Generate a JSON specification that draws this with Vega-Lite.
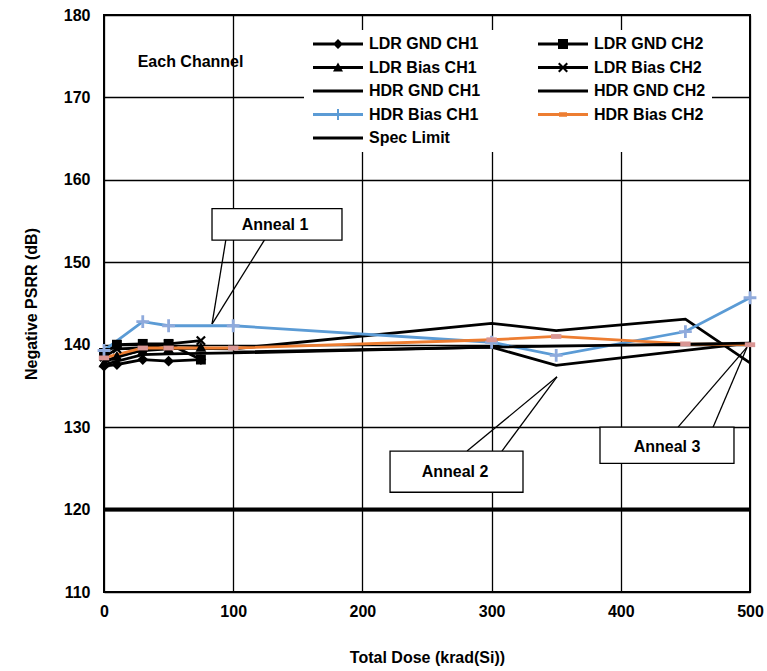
{
  "$schema": "https://vega.github.io/schema/vega-lite/v6.json",
  "width": 646,
  "height": 577,
  "autosize": {"type": "none"},
  "padding": {"left": 104, "top": 15, "right": 17, "bottom": 79},
  "background": "white",
  "config": {
    "view": {"stroke": "black", "strokeWidth": 2},
    "axis": {
      "domain": false, "ticks": false, "grid": true, "gridColor": "black", "gridOpacity": 1, "gridWidth": 1.3,
      "labelFont": "Liberation Sans", "labelFontSize": 16, "labelFontWeight": "bold", "labelColor": "black",
      "titleFont": "Liberation Sans", "titleFontSize": 16, "titleFontWeight": "bold", "titleColor": "black"
    },
    "legend": {
      "orient": "none", "legendX": 200, "legendY": 15, "columns": 2, "columnPadding": 54, "rowPadding": 7.5,
      "padding": 6, "fillColor": "white", "title": null, "symbolSize": 100, "labelOffset": 43,
      "labelFont": "Liberation Sans", "labelFontSize": 16, "labelFontWeight": "bold", "labelColor": "black",
      "symbolStrokeWidth": 0, "symbolOpacity": 1
    }
  },
  "datasets": {
    "d": [
      {"s": "LDR GND CH1", "x": 0, "y": 137.4}, {"s": "LDR GND CH1", "x": 10, "y": 137.6}, {"s": "LDR GND CH1", "x": 30, "y": 138.2}, {"s": "LDR GND CH1", "x": 50, "y": 138.0}, {"s": "LDR GND CH1", "x": 75, "y": 138.2},
      {"s": "LDR GND CH2", "x": 0, "y": 139.0}, {"s": "LDR GND CH2", "x": 10, "y": 140.0}, {"s": "LDR GND CH2", "x": 30, "y": 140.1}, {"s": "LDR GND CH2", "x": 50, "y": 140.1}, {"s": "LDR GND CH2", "x": 75, "y": 138.2},
      {"s": "LDR Bias CH1", "x": 0, "y": 137.8}, {"s": "LDR Bias CH1", "x": 10, "y": 138.6}, {"s": "LDR Bias CH1", "x": 30, "y": 139.3}, {"s": "LDR Bias CH1", "x": 50, "y": 139.5}, {"s": "LDR Bias CH1", "x": 75, "y": 139.7},
      {"s": "LDR Bias CH2", "x": 0, "y": 138.5}, {"s": "LDR Bias CH2", "x": 10, "y": 139.5}, {"s": "LDR Bias CH2", "x": 30, "y": 139.6}, {"s": "LDR Bias CH2", "x": 50, "y": 140.1}, {"s": "LDR Bias CH2", "x": 75, "y": 140.5},
      {"s": "HDR GND CH1", "x": 0, "y": 138.0}, {"s": "HDR GND CH1", "x": 30, "y": 139.4}, {"s": "HDR GND CH1", "x": 50, "y": 139.6}, {"s": "HDR GND CH1", "x": 100, "y": 139.5}, {"s": "HDR GND CH1", "x": 300, "y": 142.6}, {"s": "HDR GND CH1", "x": 350, "y": 141.7}, {"s": "HDR GND CH1", "x": 450, "y": 143.1}, {"s": "HDR GND CH1", "x": 500, "y": 137.8},
      {"s": "HDR GND CH2", "x": 0, "y": 137.6}, {"s": "HDR GND CH2", "x": 30, "y": 138.8}, {"s": "HDR GND CH2", "x": 50, "y": 138.9}, {"s": "HDR GND CH2", "x": 100, "y": 139.0}, {"s": "HDR GND CH2", "x": 300, "y": 139.7}, {"s": "HDR GND CH2", "x": 350, "y": 137.5}, {"s": "HDR GND CH2", "x": 450, "y": 139.3}, {"s": "HDR GND CH2", "x": 500, "y": 140.2},
      {"s": "HDR Bias CH1", "x": 0, "y": 139.3}, {"s": "HDR Bias CH1", "x": 30, "y": 142.8}, {"s": "HDR Bias CH1", "x": 50, "y": 142.3}, {"s": "HDR Bias CH1", "x": 100, "y": 142.3}, {"s": "HDR Bias CH1", "x": 300, "y": 140.3}, {"s": "HDR Bias CH1", "x": 350, "y": 138.7}, {"s": "HDR Bias CH1", "x": 450, "y": 141.6}, {"s": "HDR Bias CH1", "x": 500, "y": 145.7},
      {"s": "HDR Bias CH2", "x": 0, "y": 138.4}, {"s": "HDR Bias CH2", "x": 30, "y": 139.6}, {"s": "HDR Bias CH2", "x": 50, "y": 139.6}, {"s": "HDR Bias CH2", "x": 100, "y": 139.6}, {"s": "HDR Bias CH2", "x": 300, "y": 140.6}, {"s": "HDR Bias CH2", "x": 350, "y": 141.0}, {"s": "HDR Bias CH2", "x": 450, "y": 140.1}, {"s": "HDR Bias CH2", "x": 500, "y": 140.0},
      {"s": "Spec Limit", "x": 0, "y": 120}, {"s": "Spec Limit", "x": 500, "y": 120}
    ],
    "extra": [
      {"x": 100, "y": 139.1}, {"x": 300, "y": 139.7}, {"x": 500, "y": 140.2}
    ],
    "pointers": [
      {"x": 94.4, "y": 152.8, "xe": 83.6, "ye": 142.5},
      {"x": 124.6, "y": 152.8, "xe": 83.6, "ye": 142.5},
      {"x": 281, "y": 127.1, "xe": 350.6, "ye": 136.1},
      {"x": 308, "y": 127.1, "xe": 350.6, "ye": 136.1},
      {"x": 444.3, "y": 130.0, "xe": 497.7, "ye": 139.7},
      {"x": 471.4, "y": 130.0, "xe": 497.7, "ye": 139.7}
    ],
    "callouts": [
      {"label": "Anneal 1", "x": 132.4, "y": 154.5, "bx1": 83.6, "bx2": 184.2, "by1": 152.7, "by2": 156.5},
      {"label": "Anneal 2", "x": 271.7, "y": 124.6, "bx1": 221.4, "bx2": 324.3, "by1": 122.1, "by2": 127.1},
      {"label": "Anneal 3", "x": 435.8, "y": 127.6, "bx1": 383.9, "bx2": 487.6, "by1": 125.6, "by2": 130.0}
    ],
    "notes": [
      {"label": "Each Channel", "x": 67, "y": 174.3}
    ]
  },
  "encoding": {
    "x": {"field": "x", "type": "quantitative", "title": "Total Dose (krad(Si))", "scale": {"domain": [0, 500], "nice": false, "zero": false},
      "axis": {"values": [0, 100, 200, 300, 400, 500], "labelPadding": 11, "titlePadding": 30, "labelFlush": false}},
    "y": {"field": "y", "type": "quantitative", "title": "Negative PSRR (dB)", "scale": {"domain": [110, 180], "nice": false, "zero": false},
      "axis": {"values": [110, 120, 130, 140, 150, 160, 170, 180], "labelPadding": 14, "titlePadding": 24, "labelFlush": false}}
  },
  "layer": [
    {
      "data": {"name": "pointers"},
      "mark": {"type": "rule", "color": "black", "strokeWidth": 1.3},
      "encoding": {"x2": {"field": "xe"}, "y2": {"field": "ye"}}
    },
    {
      "data": {"name": "d"},
      "transform": [{"filter": {"not": {"field": "s", "equal": "Spec Limit"}}}],
      "mark": {"type": "line", "strokeWidth": 2.8},
      "encoding": {
        "stroke": {"field": "s", "type": "nominal", "legend": null,
          "scale": {"domain": ["LDR GND CH1", "LDR GND CH2", "LDR Bias CH1", "LDR Bias CH2", "HDR GND CH1", "HDR GND CH2", "HDR Bias CH1", "HDR Bias CH2"],
                    "range": ["black", "black", "black", "black", "black", "black", "#5B9BD5", "#ED7D31"]}}
      }
    },
    {
      "data": {"name": "extra"},
      "mark": {"type": "line", "strokeWidth": 2.8, "color": "black"},
      "encoding": {}
    },
    {
      "data": {"name": "d"},
      "transform": [{"filter": {"field": "s", "equal": "Spec Limit"}}],
      "mark": {"type": "line", "strokeWidth": 4, "color": "black"},
      "encoding": {}
    },
    {
      "data": {"name": "d"},
      "transform": [{"filter": {"field": "s", "equal": "LDR GND CH1"}}],
      "mark": {"type": "point", "filled": true, "opacity": 1, "size": 81, "strokeWidth": 0, "fill": "black", "shape": "M0,-1.2L1.2,0L0,1.2L-1.2,0Z"},
      "encoding": {}
    },
    {
      "data": {"name": "d"},
      "transform": [{"filter": {"field": "s", "equal": "LDR GND CH2"}}],
      "mark": {"type": "point", "filled": true, "opacity": 1, "size": 81, "strokeWidth": 0, "fill": "black", "shape": "M-1.1,-1.1H1.1V1.1H-1.1Z"},
      "encoding": {}
    },
    {
      "data": {"name": "d"},
      "transform": [{"filter": {"field": "s", "equal": "LDR Bias CH1"}}],
      "mark": {"type": "point", "filled": true, "opacity": 1, "size": 81, "strokeWidth": 0, "fill": "black", "shape": "M0,-1.2L1.2,1H-1.2Z"},
      "encoding": {}
    },
    {
      "data": {"name": "d"},
      "transform": [{"filter": {"field": "s", "equal": "LDR Bias CH2"}}],
      "mark": {"type": "point", "filled": true, "opacity": 1, "size": 81, "strokeWidth": 0, "fill": "black", "shape": "M-1.1,-0.75L-0.75,-1.1L0,-0.35L0.75,-1.1L1.1,-0.75L0.35,0L1.1,0.75L0.75,1.1L0,0.35L-0.75,1.1L-1.1,0.75L-0.35,0Z"},
      "encoding": {}
    },
    {
      "data": {"name": "d"},
      "transform": [{"filter": {"field": "s", "equal": "HDR Bias CH1"}}],
      "mark": {"type": "point", "filled": true, "opacity": 1, "size": 64, "strokeWidth": 0, "fill": "#8FAADC", "shape": "M-0.35,-1.6H0.35V-0.35H1.6V0.35H0.35V1.6H-0.35V0.35H-1.6V-0.35H-0.35Z"},
      "encoding": {}
    },
    {
      "data": {"name": "d"},
      "transform": [{"filter": {"field": "s", "equal": "HDR Bias CH2"}}],
      "mark": {"type": "point", "filled": true, "opacity": 1, "size": 64, "strokeWidth": 0, "fill": "#D99694", "shape": "M-1.3,-0.6H1.3V0.6H-1.3Z"},
      "encoding": {}
    },
    {
      "data": {"name": "d"},
      "mark": {"type": "point", "filled": true, "opacity": 0, "size": 100},
      "encoding": {
        "color": {"field": "s", "type": "nominal",
          "scale": {"domain": ["LDR GND CH1", "LDR Bias CH1", "HDR GND CH1", "HDR Bias CH1", "Spec Limit", "LDR GND CH2", "LDR Bias CH2", "HDR GND CH2", "HDR Bias CH2"],
            "range": ["black", "black", "black", "#5B9BD5", "black", "black", "black", "black", "#ED7D31"]}},
        "shape": {"field": "s", "type": "nominal",
          "scale": {"domain": ["LDR GND CH1", "LDR Bias CH1", "HDR GND CH1", "HDR Bias CH1", "Spec Limit", "LDR GND CH2", "LDR Bias CH2", "HDR GND CH2", "HDR Bias CH2"],
            "range": [
              "M-1,-0.3H9V0.3H-1Z M4,-1L5,0L4,1L3,0Z",
              "M-1,-0.3H9V0.3H-1Z M4,-1L5,0.8H3Z",
              "M-1,-0.3H9V0.3H-1Z",
              "M-1,-0.3H9V0.3H-1Z M3.8,-1.1H4.2V-0.2H5.1V0.2H4.2V1.1H3.8V0.2H2.9V-0.2H3.8Z",
              "M-1,-0.3H9V0.3H-1Z",
              "M-1,-0.3H9V0.3H-1Z M3,-1H5V1H3Z",
              "M-1,-0.3H9V0.3H-1Z M3,-0.7L3.3,-1L4,-0.3L4.7,-1L5,-0.7L4.3,0L5,0.7L4.7,1L4,0.3L3.3,1L3,0.7L3.7,0Z",
              "M-1,-0.3H9V0.3H-1Z",
              "M-1,-0.3H9V0.3H-1Z M3.2,-0.45H4.8V0.45H3.2Z"
            ]}}
      }
    },
    {
      "data": {"name": "callouts"},
      "mark": {"type": "rect", "fill": "white", "stroke": "black", "strokeWidth": 1.3},
      "encoding": {
        "x": {"field": "bx1", "type": "quantitative", "title": "Total Dose (krad(Si))"},
        "x2": {"field": "bx2"},
        "y": {"field": "by1", "type": "quantitative", "title": "Negative PSRR (dB)"},
        "y2": {"field": "by2"}
      }
    },
    {
      "data": {"name": "callouts"},
      "mark": {"type": "text", "font": "Liberation Sans", "fontSize": 16, "fontWeight": "bold", "color": "black", "align": "center", "baseline": "middle"},
      "encoding": {"text": {"field": "label"}}
    },
    {
      "data": {"name": "notes"},
      "mark": {"type": "text", "font": "Liberation Sans", "fontSize": 16, "fontWeight": "bold", "color": "black", "align": "center", "baseline": "middle"},
      "encoding": {"text": {"field": "label"}}
    }
  ]
}
